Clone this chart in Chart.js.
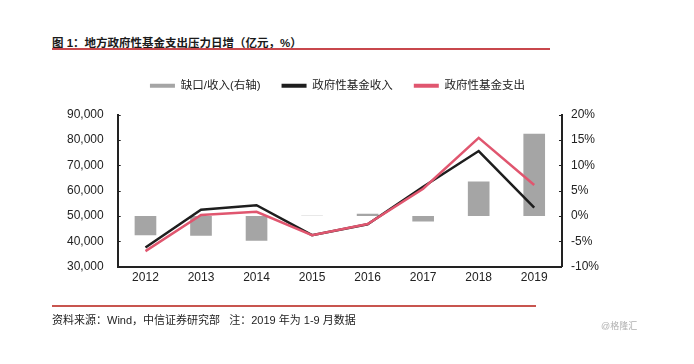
<!DOCTYPE html>
<html>
<head>
<meta charset="utf-8">
<script src="https://cdn.jsdelivr.net/npm/chart.js@4"></script>
<style>
  html, body { margin:0; padding:0; background:#fff; }
  body { width:694px; height:364px; position:relative; overflow:hidden;
         font-family:"Liberation Sans","Noto Sans CJK SC",sans-serif; }
  #title { position:absolute; left:52px; top:34px; font-size:11.5px; font-weight:bold; color:#1a1a1a; white-space:nowrap; }
  #tline { position:absolute; left:52px; top:48px; width:498px; height:2px; background:#c8474c; }
  #fline { position:absolute; left:52px; top:305px; width:484px; height:2px; background:#c8554f; }
  #foot { position:absolute; left:52px; top:311px; font-size:11px; color:#222; white-space:nowrap; }
  #wm { position:absolute; left:601px; top:319px; font-size:9px; color:#b0b0b0; white-space:nowrap; }
  #wrap { position:absolute; left:0; top:0; width:694px; height:364px; }
</style>
</head>
<body>
<div id="title">图 1：地方政府性基金支出压力日增（亿元，%）</div>
<div id="tline"></div>
<div id="wrap"><canvas id="c"></canvas></div>
<div id="fline"></div>
<div id="foot">资料来源：Wind，中信证券研究部&nbsp;&nbsp;&nbsp;注：2019 年为 1-9 月数据</div>
<div id="wm">@格隆汇</div>
<script>
const years = ["2012","2013","2014","2015","2016","2017","2018","2019"];
const gapPct = [-3.8, -3.9, -4.9, 0.04, 0.4, -1.1, 6.8, 16.2];
const income = [37500, 52400, 54200, 42400, 46700, 61500, 75600, 53300];
const expenditure = [36100, 50400, 51600, 42400, 46800, 60700, 80800, 62200];
const leftTicks = [30000, 40000, 50000, 60000, 70000, 80000, 90000];
const rightTicks = [-10, -5, 0, 5, 10, 15, 20];

const FONT = "'Liberation Sans','Noto Sans CJK SC',sans-serif";

const inwardTicks = {
  id: 'inwardTicks',
  afterDraw(chart) {
    const ctx = chart.ctx;
    const yL = chart.scales.y, yR = chart.scales.y1;
    ctx.save();
    ctx.strokeStyle = '#222';
    ctx.lineWidth = 1;
    yL.ticks.forEach(t => {
      const p = Math.round(yL.getPixelForValue(t.value)) + 0.5;
      ctx.beginPath(); ctx.moveTo(yL.right, p); ctx.lineTo(yL.right + 3, p); ctx.stroke();
    });
    yR.ticks.forEach(t => {
      const p = Math.round(yR.getPixelForValue(t.value)) + 0.5;
      ctx.beginPath(); ctx.moveTo(yR.left - 3, p); ctx.lineTo(yR.left, p); ctx.stroke();
    });
    ctx.restore();
  }
};

const legendTweak = {
  id: 'legendTweak',
  beforeInit(chart) {
    const lg = chart.legend;
    const origFit = lg.fit;
    lg.fit = function() { origFit.call(this); this.height += 13; };
  },
  afterLayout(chart) {
    chart.legend.left += 7;
    chart.legend.right += 7;
  }
};

new Chart(document.getElementById('c'), {
  data: {
    labels: years,
    datasets: [
      { type:'bar', label:'缺口/收入(右轴)', data: gapPct, yAxisID:'y1',
        backgroundColor:'#a5a5a5', borderWidth:0,
        barPercentage:0.39, categoryPercentage:1.0, order:3 },
      { type:'line', label:'政府性基金收入', data: income, yAxisID:'y',
        borderColor:'#1e1e1e', backgroundColor:'#1e1e1e', borderWidth:2.5,
        pointRadius:0, tension:0, order:2 },
      { type:'line', label:'政府性基金支出', data: expenditure, yAxisID:'y',
        borderColor:'#e0566f', backgroundColor:'#e0566f', borderWidth:2.5,
        pointRadius:0, tension:0, order:1 }
    ]
  },
  options: {
    responsive:true, maintainAspectRatio:false, animation:false,
    layout: { padding: { left:53, right:86, top:59, bottom:75 } },
    plugins: {
      legend: {
        position:'top',
        labels: {
          boxWidth:25, boxHeight:4, padding:21, color:'#222',
          font:{ family:FONT, size:11.5 },
          generateLabels(chart) {
            return chart.data.datasets.map((d,i) => ({
              text:d.label, fillStyle:d.backgroundColor, strokeStyle:d.backgroundColor,
              lineWidth:0, hidden:false, datasetIndex:i, fontColor:'#222'
            }));
          }
        }
      },
      tooltip: { enabled:false }
    },
    scales: {
      x: {
        offset:true,
        grid:{ display:false, drawTicks:false },
        border:{ display:true, color:'#222', width:2 },
        ticks:{ color:'#222', padding:4, font:{ family:FONT, size:12 } }
      },
      y: {
        position:'left', min:30000, max:90000,
        afterBuildTicks(s){ s.ticks = leftTicks.map(v => ({value:v})); },
        grid:{ display:false, drawTicks:false },
        border:{ display:true, color:'#222', width:2 },
        ticks:{ color:'#222', padding:14, font:{ family:FONT, size:12 },
          callback:v => v.toLocaleString('en-US') }
      },
      y1: {
        position:'right', min:-10, max:20,
        afterBuildTicks(s){ s.ticks = rightTicks.map(v => ({value:v})); },
        grid:{ display:false, drawTicks:false },
        border:{ display:true, color:'#222', width:2 },
        ticks:{ color:'#222', padding:9, font:{ family:FONT, size:12 },
          callback:v => v + '%' }
      }
    }
  },
  plugins:[inwardTicks, legendTweak]
});
</script>
</body>
</html>
